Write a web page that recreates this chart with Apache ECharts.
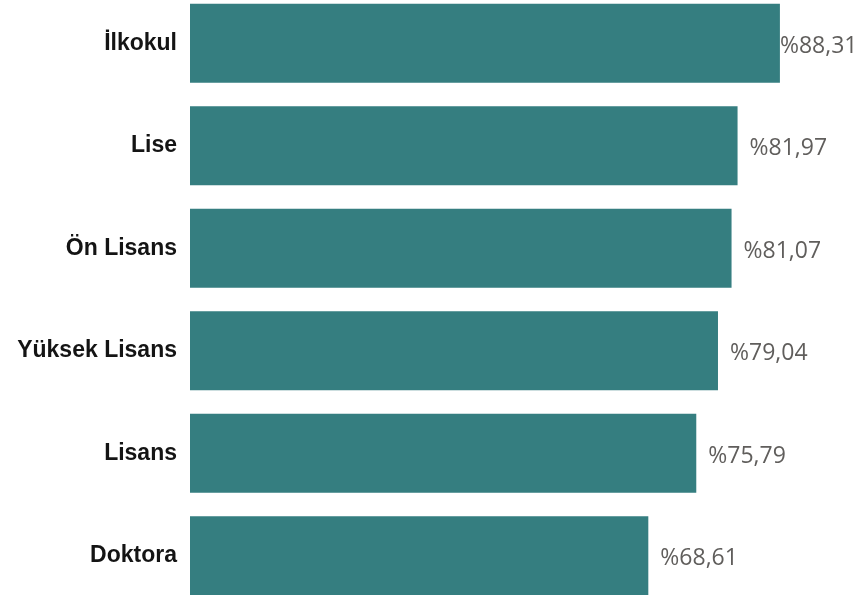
<!DOCTYPE html>
<html>
<head>
<meta charset="utf-8">
<script src="https://cdn.jsdelivr.net/npm/echarts@6/dist/echarts.min.js"></script>
<style>
html,body{margin:0;padding:0;background:#fff;overflow:hidden;width:868px;height:595px;}
#chart{position:absolute;left:0;top:-8px;width:868px;height:615px;}
</style>
</head>
<body>
<div id="chart"></div>
<script>
const categories = ["İlkokul", "Lise", "Ön Lisans", "Yüksek Lisans", "Lisans", "Doktora"];
const values = [88.31, 81.97, 81.07, 79.04, 75.79, 68.61];

const chart = echarts.init(document.getElementById('chart'), null, {renderer: 'canvas'});
const fmt = v => '%' + v.toFixed(2).replace('.', ',');

chart.setOption({
  animation: false,
  grid: {left: 190, right: 10, top: 0, bottom: 0, containLabel: false},
  xAxis: {
    type: 'value', min: 0, max: 100, show: false,
    splitLine: {show: false}
  },
  yAxis: {
    type: 'category', data: categories, inverse: true,
    axisLine: {show: false}, axisTick: {show: false},
    axisLabel: {
      margin: 13, fontSize: 23, fontWeight: 'bold', padding: [6, 0, 0, 0],
      fontFamily: '"Liberation Sans", Arial, sans-serif', color: '#141414'
    }
  },
  series: [{
    type: 'bar',
    barWidth: 79,
    itemStyle: {color: '#357e80'},
    data: values.map((v, i) => i === 0
      ? {value: v, label: {distance: 0, offset: [0, 3]}}
      : v),
    label: {
      show: true, position: 'right', distance: 12, offset: [0, 3],
      formatter: p => fmt(p.value),
      fontSize: 23, fontFamily: '"Open Sans", sans-serif', color: '#605e5c'
    }
  }]
});
</script>
</body>
</html>
